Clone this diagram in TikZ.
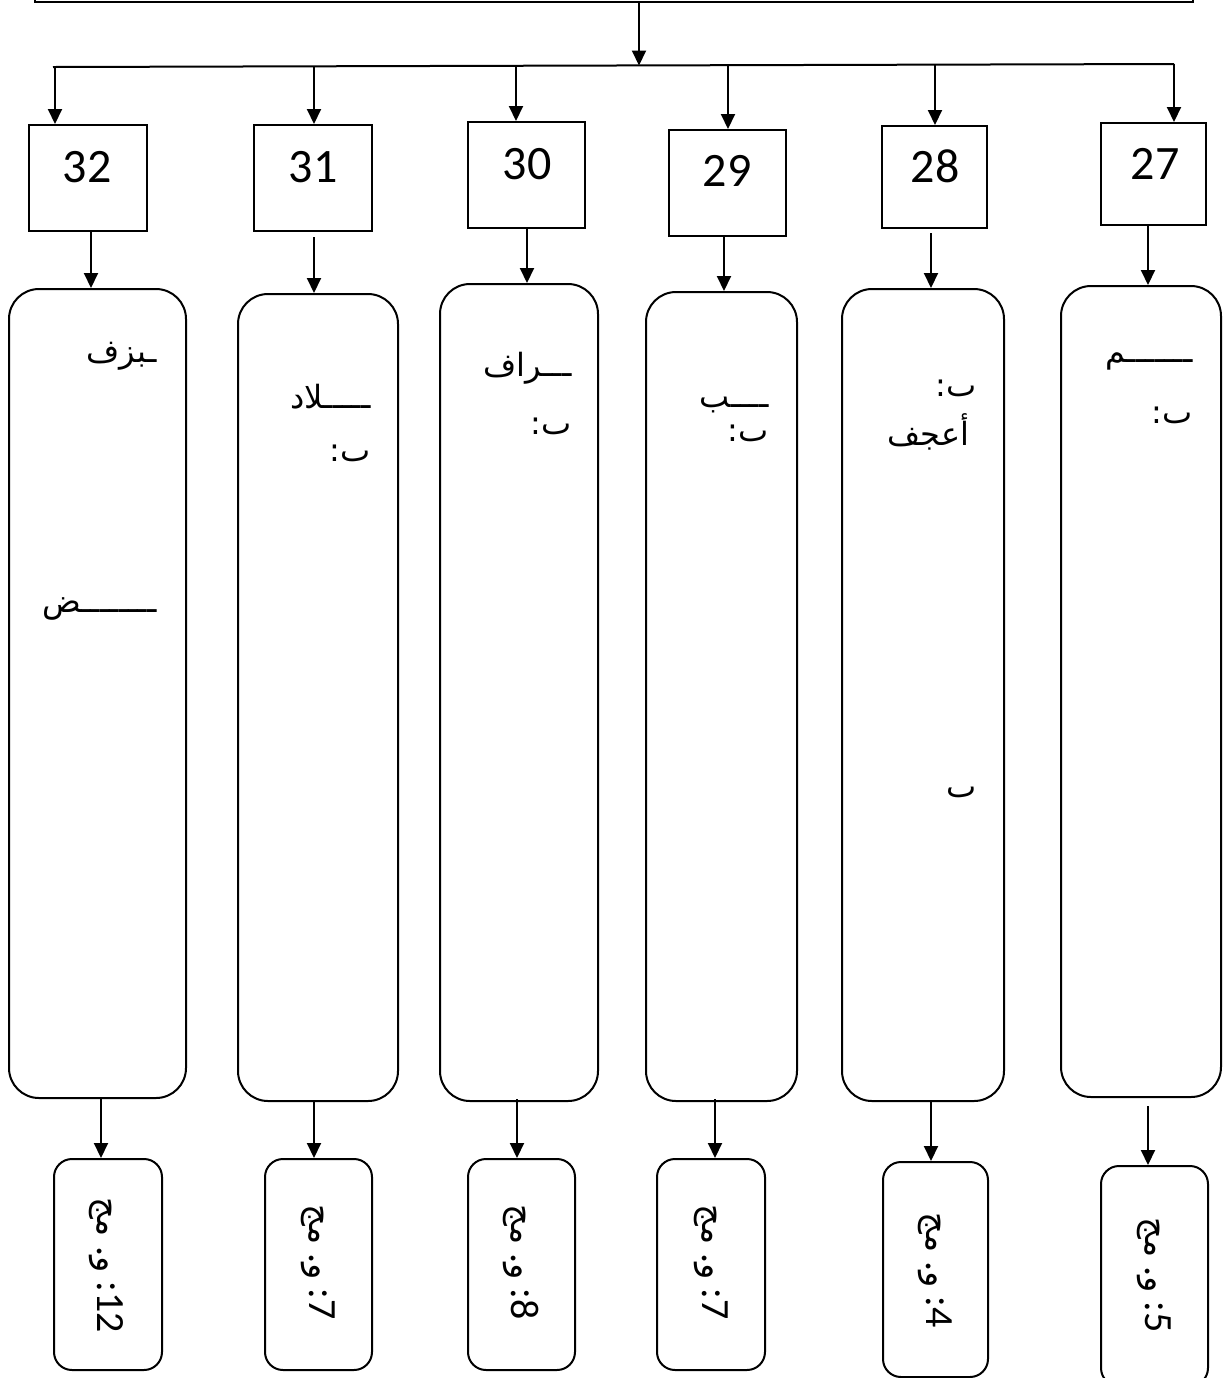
\documentclass[tikz,border=0pt]{standalone}
\usepackage{fontspec}
\setmainfont{Carlito}
\newfontfamily\ar[Script=Arabic]{DejaVu Sans}
\TeXXeTstate=1
\usetikzlibrary{arrows.meta}
\newcommand{\botlabel}[1]{{\ar\fontsize{17}{20}\selectfont\beginR مج\endR} .{\ar\fontsize{17}{20}\selectfont\beginR و\endR} :#1}
\begin{document}
\begin{tikzpicture}[x=0.5pt,y=-0.5pt,
  box/.style={draw, line width=1pt, inner sep=0pt},
  topbox/.style={draw, line width=1.2pt, inner sep=0pt},
  numbox/.style={box},
  tallbox/.style={box, rounded corners=15pt},
  botbox/.style={box, rounded corners=9pt},
  arr/.style={line width=1pt, -{Triangle[length=7.5pt,width=7pt]}},
  num/.style={font=\fontsize{24}{28}\selectfont, anchor=base, inner sep=0pt},
  artxt/.style={font=\ar\fontsize{16}{20}\selectfont, anchor=base east, inner sep=0pt},
  rottxt/.style={rotate=-90, inner sep=0pt, font=\fontsize{20}{24}\selectfont}]
\useasboundingbox (0,0) rectangle (1224,1378);
\clip (0,0) rectangle (1224,1378);

% top box
\node[topbox, minimum width=579pt, minimum height=16pt] (top) at (614,-14) {};

% horizontal distribution line
\coordinate (hl) at (53,67);
\coordinate (hr) at (1174,64);
\coordinate (hc) at (639,65.5);
\draw[arr] ([xshift=12.5pt]top.south) -- (hc);
\draw[line width=1pt] (hl) -- (hr);
\coordinate (a32) at (55,67);
\coordinate (a31) at (314,66.3);
\coordinate (a30) at (516,65.8);
\coordinate (a29) at (728,65.2);
\coordinate (a28) at (935,64.6);
\coordinate (a27) at (1174,64);

% number boxes
\node[numbox, minimum width=59pt, minimum height=53pt] (n32) at (88,178) {};
\node[numbox, minimum width=59pt, minimum height=53pt] (n31) at (313,178) {};
\node[numbox, minimum width=58.5pt, minimum height=53pt] (n30) at (526.5,175) {};
\node[numbox, minimum width=58.5pt, minimum height=53pt] (n29) at (727.5,183) {};
\node[numbox, minimum width=52.5pt, minimum height=51pt] (n28) at (934.5,177) {};
\node[numbox, minimum width=52.5pt, minimum height=51pt] (n27) at (1153.5,174) {};

\node[num] (l32) at (87,182) {32};
\node[num] (l31) at (313,182) {31};
\node[num] (l30) at (527,179) {30};
\node[num] (l29) at (727,186) {29};
\node[num] (l28) at (935,182) {28};
\node[num] (l27) at (1155,179) {27};

\draw[arr] (a32) -- (a32 |- n32.north);
\draw[arr] (a31) -- (a31 |- n31.north);
\draw[arr] (a30) -- (a30 |- n30.north);
\draw[arr] (a29) -- (a29 |- n29.north);
\draw[arr] (a28) -- (a28 |- n28.north);
\draw[arr] (a27) -- (a27 |- n27.north);

% tall rounded boxes
\node[tallbox, minimum width=88.5pt, minimum height=404.5pt] (t32) at (97.5,693.5) {};
\node[tallbox, minimum width=80pt, minimum height=403.5pt] (t31) at (318,697.5) {};
\node[tallbox, minimum width=79pt, minimum height=408.5pt] (t30) at (519,692.5) {};
\node[tallbox, minimum width=75.5pt, minimum height=404.5pt] (t29) at (721.5,696.5) {};
\node[tallbox, minimum width=81pt, minimum height=406pt] (t28) at (923,695) {};
\node[tallbox, minimum width=80pt, minimum height=405.5pt] (t27) at (1141,691.5) {};

\draw[arr] ([xshift=1.5pt]n32.south) -- ([xshift=1.5pt]n32.south |- t32.north);
\draw[arr] ([xshift=0.5pt,yshift=-2.5pt]n31.south) -- ([xshift=0.5pt]n31.south |- t31.north);
\draw[arr] ([xshift=0.25pt]n30.south) -- ([xshift=0.25pt]n30.south |- t30.north);
\draw[arr] ([xshift=-1.75pt]n29.south) -- ([xshift=-1.75pt]n29.south |- t29.north);
\draw[arr] ([xshift=-1.75pt,yshift=-2pt]n28.south) -- ([xshift=-1.75pt]n28.south |- t28.north);
\draw[arr] ([xshift=-2.75pt]n27.south) -- ([xshift=-2.75pt]n27.south |- t27.north);

% texts in tall boxes
\node[artxt] (p32a) at (157,362) {\beginR ـبزف\endR};
\node[artxt] (p32b) at (157,612) {\beginR ــــــــض\endR};
\node[artxt] (p31a) at (371,408) {\beginR ـــــلاد\endR};
\node[artxt] (p31b) at (371,461) {\beginR ٮ:\endR};
\node[artxt] (p30a) at (572,376) {\beginR ـــراف\endR};
\node[artxt] (p30b) at (572,434) {\beginR ٮ:\endR};
\node[artxt] (p29a) at (769,407) {\beginR ــــب\endR};
\node[artxt] (p29b) at (769,441) {\beginR ٮ:\endR};
\node[artxt] (p28a) at (977,396) {\beginR ٮ:\endR};
\node[artxt] (p28b) at (970,445) {\beginR أعجف\endR};
\node[artxt] (p28c) at (977,797) {\beginR ٮ\endR};
\node[artxt] (p27a) at (1193,362) {\beginR ـــــــم\endR};
\node[artxt] (p27b) at (1193,423) {\beginR ٮ:\endR};

% bottom boxes
\node[botbox, minimum width=54pt, minimum height=105.5pt] (b32) at (108,1264.5) {};
\node[botbox, minimum width=53.5pt, minimum height=105.5pt] (b31) at (318.5,1264.5) {};
\node[botbox, minimum width=53.5pt, minimum height=105.5pt] (b30) at (521.5,1264.5) {};
\node[botbox, minimum width=54pt, minimum height=105.5pt] (b29) at (711,1264.5) {};
\node[botbox, minimum width=52.5pt, minimum height=107.5pt] (b28) at (935.5,1269.5) {};
\node[botbox, minimum width=53.5pt, minimum height=110pt] (b27) at (1154.5,1276) {};

\draw[arr] ([xshift=1.75pt]t32.south) -- ([xshift=1.75pt]t32.south |- b32.north);
\draw[arr] ([xshift=-2pt]t31.south) -- ([xshift=-2pt]t31.south |- b31.north);
\draw[arr] ([xshift=-1pt,yshift=1.5pt]t30.south) -- ([xshift=-1pt]t30.south |- b30.north);
\draw[arr] ([xshift=-3.25pt,yshift=1.5pt]t29.south) -- ([xshift=-3.25pt]t29.south |- b29.north);
\draw[arr] ([xshift=4pt]t28.south) -- ([xshift=4pt]t28.south |- b28.north);
\draw[arr] ([xshift=3.5pt,yshift=-4pt]t27.south) -- ([xshift=3.5pt]t27.south |- b27.north);

% rotated texts
\node[rottxt] (r32) at (106,1265) {\botlabel{12}};
\node[rottxt] (r31) at (318.5,1262) {\botlabel{7}};
\node[rottxt] (r30) at (521.5,1262) {\botlabel{8}};
\node[rottxt] (r29) at (711,1262) {\botlabel{7}};
\node[rottxt] (r28) at (935.5,1270) {\botlabel{4}};
\node[rottxt] (r27) at (1154.5,1275) {\botlabel{5}};
\end{tikzpicture}
\end{document}
